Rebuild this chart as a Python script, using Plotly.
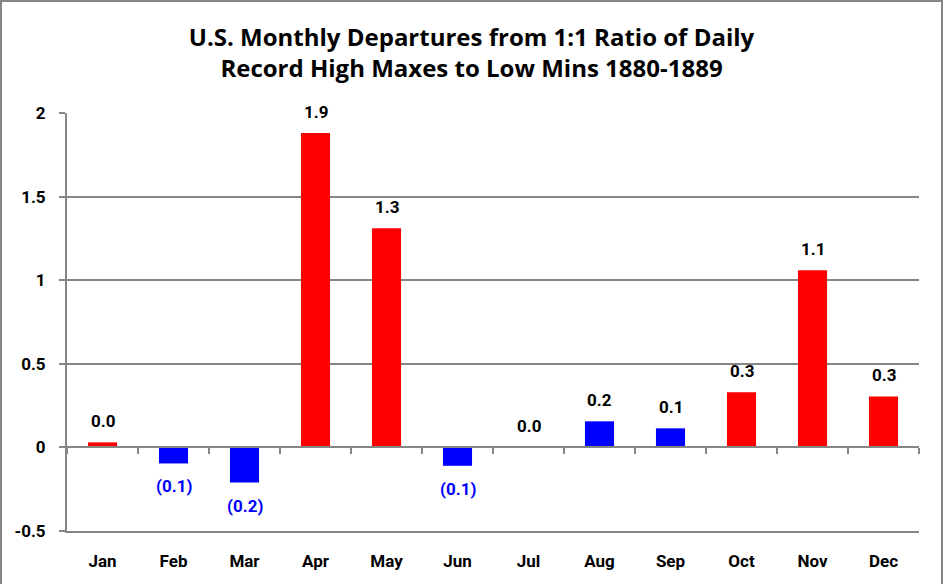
import plotly.graph_objects as go

months = ["Jan", "Feb", "Mar", "Apr", "May", "Jun", "Jul", "Aug", "Sep", "Oct", "Nov", "Dec"]
departures = [0.03, -0.096, -0.21, 1.88, 1.31, -0.11, 0.0, 0.156, 0.114, 0.33, 1.06, 0.305]
bar_colors = ["#FF0000", "#0000FF", "#0000FF", "#FF0000", "#FF0000", "#0000FF",
              "#FF0000", "#0000FF", "#0000FF", "#FF0000", "#FF0000", "#FF0000"]
y_ticks = [-0.5, 0, 0.5, 1, 1.5, 2]
y_tick_text = ["-0.5", "0", "0.5", "1", "1.5", "2"]

labels = [f"({abs(v):.1f})" if v < 0 else f"{v:.1f}" for v in departures]
label_colors = ["#0000FF" if v < 0 else "#000000" for v in departures]

FONT = "Roboto, 'Liberation Sans', sans-serif"
TFONT = "'Open Sans', Roboto, sans-serif"
GRAY = "#868686"

x = list(range(len(months)))

fig = go.Figure()
fig.add_trace(go.Bar(
    x=x, y=departures,
    marker=dict(color=bar_colors, line=dict(width=0)),
    width=0.41,
    showlegend=False,
    hoverinfo="skip",
))

for xi, v, lab, col in zip(x, departures, labels, label_colors):
    fig.add_annotation(
        x=xi, y=v, xref="x", yref="y", text=f"<b>{lab}</b>", showarrow=False,
        yanchor="top" if v < 0 else "bottom", yshift=-11 if v < 0 else 9,
        font=dict(family=FONT, size=17, color=col),
    )

W, H = 943, 584
ml, mr, mt, mb = 67, 24, 113, 53
pw, ph = W - ml - mr, H - mt - mb

fig.update_layout(
    width=W, height=H,
    margin=dict(l=ml, r=mr, t=mt, b=mb),
    paper_bgcolor="white", plot_bgcolor="white",
    title=dict(
        text="<b>U.S. Monthly Departures from 1:1 Ratio of Daily<br>Record High Maxes to Low Mins 1880-1889</b>",
        x=0.5, xanchor="center", y=0.922, yanchor="top",
        font=dict(family=TFONT, size=24, color="black"),
    ),
    xaxis=dict(
        range=[-0.5, 11.5],
        tickvals=x, ticktext=[f"<b>{m}</b>" for m in months],
        tickfont=dict(family=FONT, size=17, color="black"),
        showline=True, linecolor=GRAY, linewidth=2,
        showgrid=False, zeroline=False, ticks="",
        ticklabelstandoff=14,
    ),
    xaxis2=dict(
        overlaying="x", anchor="free", position=0.2,
        range=[-0.5, 11.5],
        tickvals=[i - 0.5 for i in range(13)],
        showticklabels=False, ticks="outside", ticklen=6, tickwidth=2, tickcolor=GRAY,
        showline=True, linecolor=GRAY, linewidth=2, showgrid=False, zeroline=False,
    ),
    yaxis=dict(
        range=[-0.5, 2],
        tickvals=y_ticks, ticktext=[f"<b>{t}</b>" for t in y_tick_text],
        tickfont=dict(family=FONT, size=17, color="black"),
        showgrid=True, gridcolor=GRAY, gridwidth=2,
        zeroline=False,
        showline=True, linecolor=GRAY, linewidth=2,
        ticks="outside", ticklen=6, tickwidth=2, tickcolor=GRAY,
        ticklabelstandoff=10,
    ),
)
# invisible trace to activate xaxis2
fig.add_trace(go.Scatter(x=[0], y=[0], xaxis="x2", mode="markers",
                         marker=dict(opacity=0), showlegend=False, hoverinfo="skip"))

# outer chart border
fig.add_shape(type="rect", xref="paper", yref="paper",
              x0=(1 - ml) / pw, x1=(W - 1 - ml) / pw,
              y0=(mb - (H - 1)) / ph + 0, y1=(H - 1 - mb) / ph,
              line=dict(color=GRAY, width=2), fillcolor="rgba(0,0,0,0)", layer="below")

fig.write_html("out.html", config={"displayModeBar": False},
               post_script="document.body.style.margin='0';")
